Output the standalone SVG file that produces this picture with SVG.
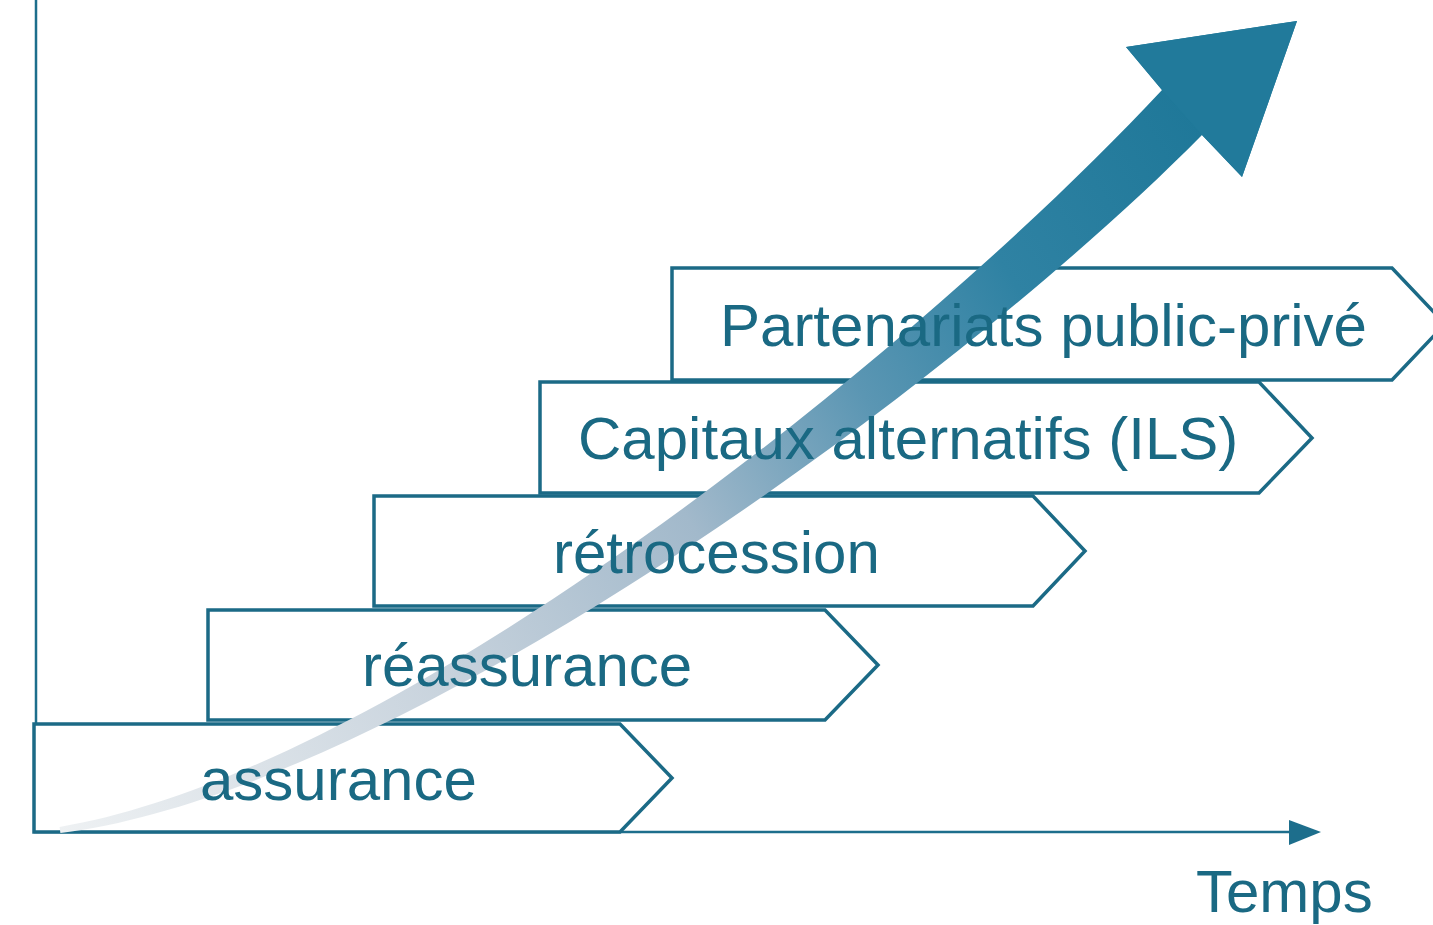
<svg xmlns="http://www.w3.org/2000/svg" width="1433" height="925" viewBox="0 0 1433 925">
<defs>
<style>
.chev{fill:#ffffff;stroke:#1b6a86;stroke-width:3.5;stroke-linejoin:miter}
.lbl{font-family:"Liberation Sans",Arial,sans-serif;font-size:60px;fill:#1a6983}
.axis{stroke:#1d6e8c;stroke-width:2.5;fill:none}
</style>
<linearGradient id="grow" gradientUnits="userSpaceOnUse" x1="60" y1="830" x2="1190" y2="110">
<stop offset="0" stop-color="#eef1f3"/>
<stop offset="0.3" stop-color="#c8d3dd"/>
<stop offset="0.52" stop-color="#a2b9cb"/>
<stop offset="0.68" stop-color="#5b96b3"/>
<stop offset="0.82" stop-color="#2f82a3"/>
<stop offset="1" stop-color="#1f7899"/>
</linearGradient>
</defs>
<g id="axes">
<line class="axis" x1="36" y1="0" x2="36" y2="832" stroke="#2a7aa0"/>
<line class="axis" x1="34" y1="832" x2="1292" y2="832"/>
<polygon points="1289,820 1321,832 1289,845" fill="#1d6e8c"/>
</g>
<g id="n-assurance"><polygon class="chev" points="34,724 620,724 672,778 620,832 34,832"/></g>
<g id="n-reassurance"><polygon class="chev" points="208,610 825,610 878,665 825,720 208,720"/></g>
<g id="n-retrocession"><polygon class="chev" points="374,496 1033,496 1085,551 1033,606 374,606"/></g>
<g id="n-capitaux"><polygon class="chev" points="540,382 1259,382 1312,438 1259,493 540,493"/></g>
<g id="n-partenariats"><polygon class="chev" points="672,268 1392,268 1445,324 1392,380 672,380"/></g>
<g id="connectors">
<path d="M59.6,827 C398.5,770 921.6,348 1162,90 L1126,47 L1297,21 L1242,177 L1202,135 C958.4,382 401.5,790 60.4,833 Z" fill="url(#grow)"/>
<path d="M1162,90 L1126,47 L1297,21 L1242,177 L1202,135 Z" fill="#217a9b"/>
</g>
<g id="labels">
<text class="lbl" x="200" y="800">assurance</text>
<text class="lbl" x="362" y="686">réassurance</text>
<text class="lbl" x="553" y="573">rétrocession</text>
<text class="lbl" x="578" y="459">Capitaux alternatifs (ILS)</text>
<text class="lbl" x="720" y="346">Partenariats public-privé</text>
<text class="lbl" x="1196" y="912">Temps</text>
</g>
</svg>
